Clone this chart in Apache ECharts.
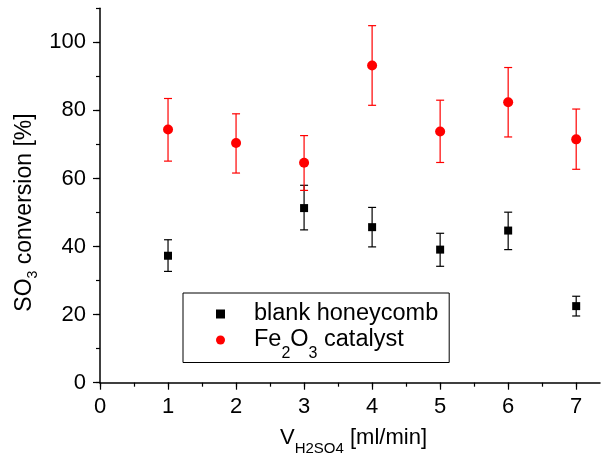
<!DOCTYPE html>
<html><head><meta charset="utf-8">
<script src="https://cdn.jsdelivr.net/npm/echarts@6/dist/echarts.min.js"></script>
<style>html,body{margin:0;padding:0;background:#fff}#c{width:604px;height:463px}</style>
</head><body><div id="c"></div>
<script>
// ---- data ----
const blankX    = [1, 3, 4, 5, 6, 7];
const blankY    = [37.3, 51.3, 45.7, 39.1, 44.7, 22.5];
const blankHigh = [42.0, 58.0, 51.5, 43.9, 50.1, 25.4];
const blankLow  = [32.7, 44.9, 39.9, 34.2, 39.1, 19.6];

const feX    = [1, 2, 3, 4, 5, 6, 7];
const feY    = [74.4, 70.4, 64.6, 93.2, 73.8, 82.4, 71.5];
const feHigh = [83.5, 79.0, 72.6, 104.9, 83.0, 92.6, 80.4];
const feLow  = [65.1, 61.6, 56.5, 81.5, 64.7, 72.2, 62.7];

const xMajorTicks = [0, 1, 2, 3, 4, 5, 6, 7];
const xMinorTicks = [0, 0.5, 1, 1.5, 2, 2.5, 3, 3.5, 4, 4.5, 5, 5.5, 6, 6.5, 7];
const yMajorTicks = [0, 20, 40, 60, 80, 100];
const yMinorTicks = [0, 10, 20, 30, 40, 50, 60, 70, 80, 90, 100, 110];

const FONT = 'Liberation Sans, Arial, sans-serif';
const X_MIN = 0, X_MAX = 7.35, Y_MIN = 0, Y_MAX = 110;

function zip3(a, b, c) { return a.map((v, i) => [v, b[i], c[i]]); }
function zip2(a, b) { return a.map((v, i) => [v, b[i]]); }

function errorBars(color) {
  return function (params, api) {
    const x = api.value(0), lo = api.value(1), hi = api.value(2);
    const pLo = api.coord([x, lo]);
    const pHi = api.coord([x, hi]);
    const hw = 4;
    const st = { stroke: color, lineWidth: 1.2 };
    return {
      type: 'group',
      children: [
        { type: 'line', shape: { x1: pLo[0], y1: pLo[1], x2: pHi[0], y2: pHi[1] }, style: st },
        { type: 'line', shape: { x1: pLo[0] - hw, y1: pLo[1], x2: pLo[0] + hw, y2: pLo[1] }, style: st },
        { type: 'line', shape: { x1: pHi[0] - hw, y1: pHi[1], x2: pHi[0] + hw, y2: pHi[1] }, style: st }
      ]
    };
  };
}

const axisLineStyle = { color: '#000', width: 1.5 };

const chart = echarts.init(document.getElementById('c'), null, { renderer: 'canvas' });
chart.setOption({
  animation: false,
  backgroundColor: '#fff',
  grid: { left: 100, right: 4, top: 8.3, bottom: 80.3, outerBoundsMode: 'none', containLabel: false },
  legend: {
    orient: 'vertical',
    left: 183, top: 293,
    padding: [9, 11, 1, 33],
    itemWidth: 9, itemHeight: 9, itemGap: -4,
    borderColor: '#000', borderWidth: 1, borderRadius: 0,
    selectedMode: false,
    data: [
      { name: 'blank', icon: 'rect' },
      { name: 'fe', icon: 'circle' }
    ],
    formatter: function (n) {
      return n === 'blank' ? '{f|blank honeycomb}' : '{f|Fe}{s|2}{m|O}{s|3}{m| catalyst}';
    },
    textStyle: {
      color: '#000', fontFamily: FONT,
      rich: {
        f: { fontSize: 23.5, lineHeight: 36, padding: [0, 0, 0, 24], fontFamily: FONT, color: '#000' },
        m: { fontSize: 23.5, lineHeight: 36, fontFamily: FONT, color: '#000' },
        s: { fontSize: 16, lineHeight: 16, padding: [23.5, 0, 0, 0], verticalAlign: 'top', fontFamily: FONT, color: '#000' }
      }
    }
  },
  xAxis: [
    {
      type: 'value', min: X_MIN, max: X_MAX, position: 'bottom',
      splitLine: { show: false },
      axisLine: { show: true, lineStyle: axisLineStyle },
      axisTick: { show: true, length: 4, customValues: xMinorTicks, lineStyle: { color: '#000', width: 1.2 } },
      axisLabel: { show: false }
    },
    {
      type: 'value', min: X_MIN, max: X_MAX, position: 'bottom', gridIndex: 0,
      splitLine: { show: false },
      axisLine: { show: false },
      axisTick: { show: true, length: 7, customValues: xMajorTicks, lineStyle: { color: '#000', width: 1.2 } },
      axisLabel: { show: true, customValues: xMajorTicks, fontSize: 22, fontFamily: FONT, color: '#000', margin: 13 },
      name: '{m|V}{s|H2SO4}{m| [ml/min]}',
      nameLocation: 'middle', nameGap: 37, nameMoveOverlap: false,
      nameTextStyle: {
        padding: [0, 0, 0, 7],
        rich: {
          m: { fontSize: 22, lineHeight: 36, fontFamily: FONT, color: '#000' },
          s: { fontSize: 15, lineHeight: 15, padding: [21.5, 0, 0, 0], verticalAlign: 'top', fontFamily: FONT, color: '#000' }
        }
      }
    }
  ],
  yAxis: [
    {
      type: 'value', min: Y_MIN, max: Y_MAX, position: 'left',
      splitLine: { show: false },
      axisLine: { show: true, lineStyle: axisLineStyle },
      axisTick: { show: true, length: 4, customValues: yMinorTicks, lineStyle: { color: '#000', width: 1.2 } },
      axisLabel: { show: false }
    },
    {
      type: 'value', min: Y_MIN, max: Y_MAX, position: 'left', gridIndex: 0,
      splitLine: { show: false },
      axisLine: { show: false },
      axisTick: { show: true, length: 7, customValues: yMajorTicks, lineStyle: { color: '#000', width: 1.2 } },
      axisLabel: { show: true, customValues: yMajorTicks, fontSize: 22, fontFamily: FONT, color: '#000', margin: 14 },
      name: '{m|SO}{s|3}{m| conversion [%]}',
      nameLocation: 'middle', nameRotate: 90, nameGap: 57, nameMoveOverlap: false,
      nameTextStyle: {
        padding: [0, 34, 0, 0],
        rich: {
          m: { fontSize: 23, lineHeight: 36, fontFamily: FONT, color: '#000' },
          s: { fontSize: 14, lineHeight: 14, padding: [19, 0, 0, 0], verticalAlign: 'top', fontFamily: FONT, color: '#000' }
        }
      }
    }
  ],
  series: [
    {
      name: 'blankErr', type: 'custom', xAxisIndex: 0, yAxisIndex: 0,
      renderItem: errorBars('#000'),
      encode: { x: 0, y: [1, 2] },
      data: zip3(blankX, blankLow, blankHigh), z: 2, silent: true
    },
    {
      name: 'feErr', type: 'custom', xAxisIndex: 0, yAxisIndex: 0,
      renderItem: errorBars('#ff0000'),
      encode: { x: 0, y: [1, 2] },
      data: zip3(feX, feLow, feHigh), z: 2, silent: true
    },
    {
      name: 'blank', type: 'scatter', xAxisIndex: 0, yAxisIndex: 0,
      symbol: 'rect', symbolSize: 8,
      itemStyle: { color: '#000', opacity: 1 },
      data: zip2(blankX, blankY), z: 5
    },
    {
      name: 'fe', type: 'scatter', xAxisIndex: 0, yAxisIndex: 0,
      symbol: 'circle', symbolSize: 10,
      itemStyle: { color: '#ff0000', opacity: 1 },
      data: zip2(feX, feY), z: 5
    }
  ]
});
</script>
</body></html>
